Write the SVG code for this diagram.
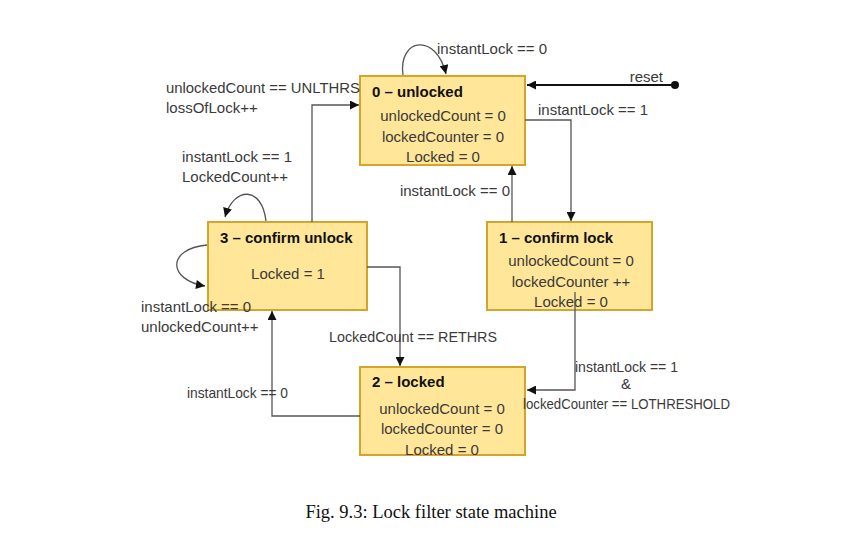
<svg xmlns="http://www.w3.org/2000/svg" width="868" height="534" viewBox="0 0 868 534">
<style>
.box{fill:#FFE699;stroke:#D4A52A;stroke-width:2}
.t{font-family:"Liberation Sans",Arial,sans-serif;font-size:15px;fill:#3a3a3a}
.b{font-family:"Liberation Sans",Arial,sans-serif;font-size:15px;font-weight:bold;fill:#111}
.c{text-anchor:middle}
.ln{fill:none;stroke:#555;stroke-width:1.3}
.cap{font-family:"Liberation Serif","Times New Roman",serif;font-size:18.5px;fill:#111}
</style>
<defs>
<marker id="ah" viewBox="0 0 10 10" refX="10" refY="5" markerWidth="10" markerHeight="9" markerUnits="userSpaceOnUse" orient="auto">
<path d="M0,0 L10,5 L0,10 z" fill="#111"/>
</marker>
</defs>
<rect width="868" height="534" fill="#fff"/>
<g id="state0">
<rect class="box" x="360" y="76" width="165" height="89"/>
<text class="b" x="372" y="97">0 – unlocked</text>
<text class="t c" x="443" y="121">unlockedCount = 0</text>
<text class="t c" x="443" y="142">lockedCounter = 0</text>
<text class="t c" x="443" y="162">Locked = 0</text>
</g>
<g id="state1">
<rect class="box" x="487" y="222" width="165" height="88"/>
<text class="b" x="499" y="243">1 – confirm lock</text>
<text class="t c" x="571" y="266">unlockedCount = 0</text>
<text class="t c" x="571" y="287">lockedCounter ++</text>
<text class="t c" x="571" y="307">Locked = 0</text>
</g>
<g id="state3">
<rect class="box" x="208" y="222" width="159" height="88"/>
<text class="b" x="220" y="243">3 – confirm unlock</text>
<text class="t c" x="288" y="279">Locked = 1</text>
</g>
<g id="state2">
<rect class="box" x="360" y="367" width="165" height="88"/>
<text class="b" x="372" y="387">2 – locked</text>
<text class="t c" x="442" y="414">unlockedCount = 0</text>
<text class="t c" x="442" y="434">lockedCounter = 0</text>
<text class="t c" x="442" y="455">Locked = 0</text>
</g>
<g id="connectors">
<path class="ln" d="M403,75 C398,38 436,32 446,74" marker-end="url(#ah)"/>
<line x1="674" y1="85" x2="527" y2="85" stroke="#111" stroke-width="2" marker-end="url(#ah)"/>
<circle cx="675" cy="85" r="4" fill="#111"/>
<path class="ln" d="M525,120 H571 V221" marker-end="url(#ah)"/>
<path class="ln" d="M512,222 V166" marker-end="url(#ah)"/>
<path class="ln" d="M575,292 V390 H527" marker-end="url(#ah)"/>
<path class="ln" d="M367,267 H400 V366" marker-end="url(#ah)"/>
<path class="ln" d="M360,416 H272 V311" marker-end="url(#ah)"/>
<path class="ln" d="M312,222 V105 H359" marker-end="url(#ah)"/>
<path class="ln" d="M266,221 C262,186 234,186 225,217" marker-end="url(#ah)"/>
<path class="ln" d="M207,245 C166,249 168,280 205,286" marker-end="url(#ah)"/>
</g>
<g id="labels">
<text class="t" x="437" y="54">instantLock == 0</text>
<text class="t" x="663" y="82" text-anchor="end">reset</text>
<text class="t" x="538" y="115">instantLock == 1</text>
<text class="t" x="510" y="196" text-anchor="end">instantLock == 0</text>
<text class="t" x="166" y="93" textLength="194" lengthAdjust="spacingAndGlyphs">unlockedCount == UNLTHRS</text>
<text class="t" x="166" y="113">lossOfLock++</text>
<text class="t" x="182" y="162">instantLock == 1</text>
<text class="t" x="182" y="182">LockedCount++</text>
<text class="t" x="141" y="312">instantLock == 0</text>
<text class="t" x="141" y="332">unlockedCount++</text>
<text class="t" x="329" y="342" textLength="168" lengthAdjust="spacingAndGlyphs">LockedCount == RETHRS</text>
<text class="t" x="187" y="398" textLength="101" lengthAdjust="spacingAndGlyphs">instantLock == 0</text>
<text class="t" x="575" y="372" textLength="103" lengthAdjust="spacingAndGlyphs">instantLock == 1</text>
<text class="t c" x="626" y="389">&amp;</text>
<text class="t" x="523" y="409" textLength="207" lengthAdjust="spacingAndGlyphs">lockedCounter == LOTHRESHOLD</text>
</g>
<text class="cap c" x="431" y="518">Fig. 9.3: Lock filter state machine</text>
</svg>
